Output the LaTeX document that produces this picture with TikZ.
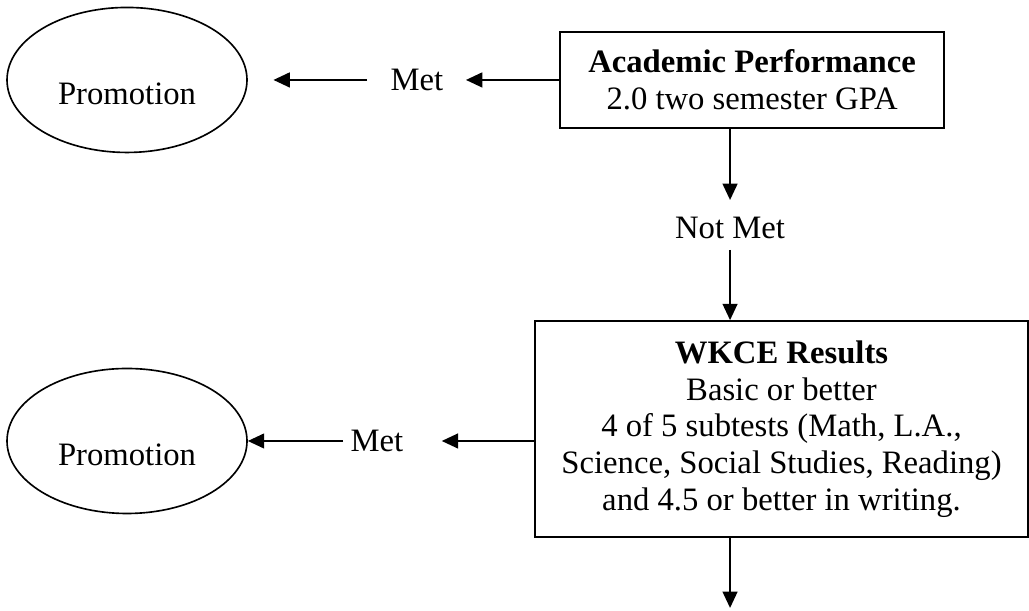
\documentclass[tikz,border=0pt]{standalone}
\usepackage{fontspec}
\setmainfont{Liberation Serif}
\usetikzlibrary{shapes.geometric,arrows.meta}

\begin{document}
\begin{tikzpicture}[font=\fontsize{12pt}{13.5pt}\selectfont,
	goal/.style={ellipse, draw, semithick, minimum width=3.097cm, minimum height=1.871cm, text height=18pt, text depth=0pt},
	test/.style={rectangle, draw, semithick, align=center},
	lbl/.style={inner sep=0pt},
	arr/.style={thick, -{Triangle[length=6pt,width=5.4pt]}}]

\useasboundingbox (0,0) rectangle (13.279,7.872);

%boxes
\node[test, minimum width=4.955cm, minimum height=1.239cm] (acad) at (9.705,6.840) {\textbf{Academic Performance}\\2.0 two semester GPA};
\node[test, minimum width=6.362cm, minimum height=2.787cm] (wkce) at (10.085,2.336) {\textbf{WKCE Results}\\Basic or better\\4 of 5 subtests (Math, L.A.,\\Science, Social Studies, Reading)\\and 4.5 or better in writing.};
%
\node[goal] (prom1) at (1.639,6.840) {Promotion};
\node[goal] (prom2) at (1.639,2.181) {Promotion};

%labels
\node[lbl] (met1)   at (5.381,6.840) {Met};
\node[lbl] (met2)   at (4.865,2.181) {Met};
\node[lbl] (notmet) at (9.421,4.936) {Not Met};
\coordinate (out) at (9.421,0.026);

%arrows
\draw[arr, shorten >=8.1pt]                 (acad.west) -- (met1.east);          %acad--met
\draw[arr, shorten <=8.4pt, shorten >=9.4pt] (met1.west) -- (prom1.east);        %met--promotion
\draw[arr, shorten >=13.9pt]                (met2.east -| wkce.west) -- (met2.east); %wkce--met
\draw[arr, shorten <=2.6pt]                 (met2.west) -- (prom2.east);         %met--promotion
%
\draw[arr, shorten >=5.9pt]                 (notmet |- acad.south) -- (notmet.north); %acad--not met
\draw[arr, shorten <=4pt]                   (notmet.south) -- (notmet |- wkce.north); %not met--wkce
\draw[arr]                                  (notmet |- wkce.south) -- (out);     %wkce--down

\end{tikzpicture}
\end{document}
